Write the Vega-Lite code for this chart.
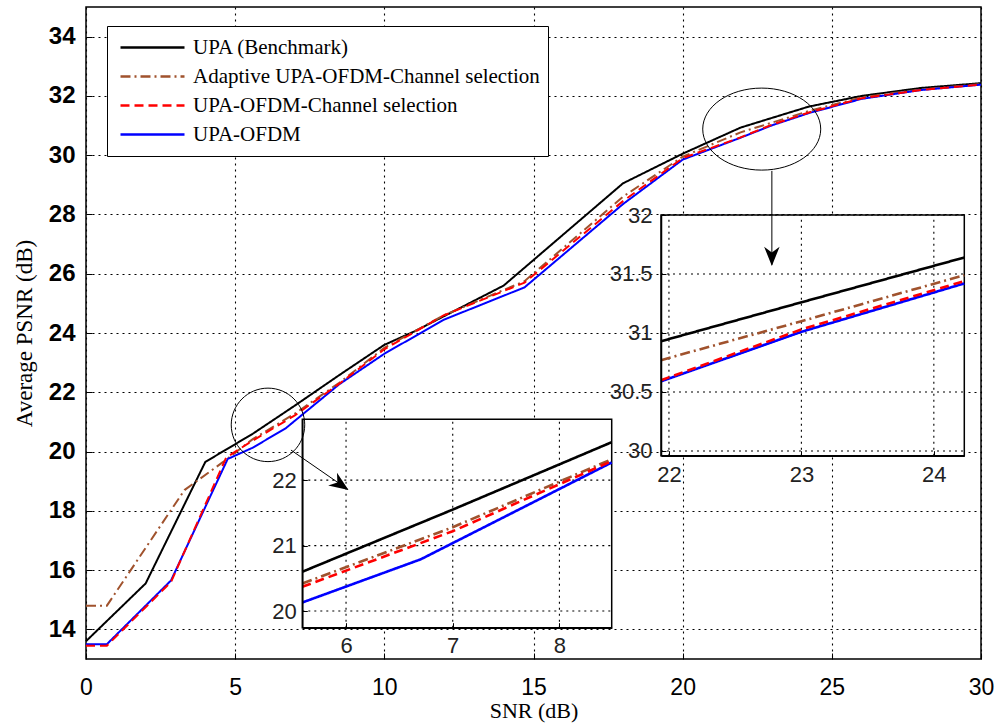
{
  "$schema": "https://vega.github.io/schema/vega-lite/v6.json",
  "width": 895,
  "height": 652,
  "autosize": {"type": "none"},
  "padding": {"left": 86, "top": 7, "right": 21, "bottom": 64},
  "background": "white",
  "config": {
    "view": {"stroke": "black", "strokeWidth": 1.5},
    "font": "Liberation Sans",
    "axis": {"gridColor": "#000", "gridOpacity": 1, "gridWidth": 1.1, "gridDash": [2, 4]}
  },
  "datasets": {
    "curves": [
      {"snr": 0, "psnr": 13.6, "series": "UPA (Benchmark)"},
      {"snr": 2, "psnr": 15.55, "series": "UPA (Benchmark)"},
      {"snr": 4, "psnr": 19.65, "series": "UPA (Benchmark)"},
      {"snr": 5.59, "psnr": 20.6, "series": "UPA (Benchmark)"},
      {"snr": 7, "psnr": 21.55, "series": "UPA (Benchmark)"},
      {"snr": 8.49, "psnr": 22.58, "series": "UPA (Benchmark)"},
      {"snr": 10, "psnr": 23.6, "series": "UPA (Benchmark)"},
      {"snr": 11, "psnr": 24.05, "series": "UPA (Benchmark)"},
      {"snr": 14, "psnr": 25.6, "series": "UPA (Benchmark)"},
      {"snr": 18, "psnr": 29.05, "series": "UPA (Benchmark)"},
      {"snr": 20, "psnr": 30.05, "series": "UPA (Benchmark)"},
      {"snr": 21.94, "psnr": 30.93, "series": "UPA (Benchmark)"},
      {"snr": 23, "psnr": 31.26, "series": "UPA (Benchmark)"},
      {"snr": 24.23, "psnr": 31.64, "series": "UPA (Benchmark)"},
      {"snr": 26, "psnr": 32.0, "series": "UPA (Benchmark)"},
      {"snr": 28, "psnr": 32.27, "series": "UPA (Benchmark)"},
      {"snr": 30, "psnr": 32.43, "series": "UPA (Benchmark)"},

      {"snr": 0, "psnr": 14.8, "series": "Adaptive UPA-OFDM-Channel selection"},
      {"snr": 0.7, "psnr": 14.8, "series": "Adaptive UPA-OFDM-Channel selection"},
      {"snr": 3.3, "psnr": 18.7, "series": "Adaptive UPA-OFDM-Channel selection"},
      {"snr": 4.6, "psnr": 19.65, "series": "Adaptive UPA-OFDM-Channel selection"},
      {"snr": 5.59, "psnr": 20.42, "series": "Adaptive UPA-OFDM-Channel selection"},
      {"snr": 7, "psnr": 21.28, "series": "Adaptive UPA-OFDM-Channel selection"},
      {"snr": 8.49, "psnr": 22.32, "series": "Adaptive UPA-OFDM-Channel selection"},
      {"snr": 10, "psnr": 23.5, "series": "Adaptive UPA-OFDM-Channel selection"},
      {"snr": 12, "psnr": 24.6, "series": "Adaptive UPA-OFDM-Channel selection"},
      {"snr": 14.7, "psnr": 25.75, "series": "Adaptive UPA-OFDM-Channel selection"},
      {"snr": 18, "psnr": 28.6, "series": "Adaptive UPA-OFDM-Channel selection"},
      {"snr": 20, "psnr": 29.95, "series": "Adaptive UPA-OFDM-Channel selection"},
      {"snr": 21.94, "psnr": 30.77, "series": "Adaptive UPA-OFDM-Channel selection"},
      {"snr": 23, "psnr": 31.1, "series": "Adaptive UPA-OFDM-Channel selection"},
      {"snr": 24.23, "psnr": 31.49, "series": "Adaptive UPA-OFDM-Channel selection"},
      {"snr": 26, "psnr": 31.95, "series": "Adaptive UPA-OFDM-Channel selection"},
      {"snr": 28, "psnr": 32.22, "series": "Adaptive UPA-OFDM-Channel selection"},
      {"snr": 30, "psnr": 32.4, "series": "Adaptive UPA-OFDM-Channel selection"},

      {"snr": 0, "psnr": 13.5, "series": "UPA-OFDM"},
      {"snr": 0.7, "psnr": 13.5, "series": "UPA-OFDM"},
      {"snr": 2.85, "psnr": 15.65, "series": "UPA-OFDM"},
      {"snr": 4.75, "psnr": 19.75, "series": "UPA-OFDM"},
      {"snr": 5.59, "psnr": 20.13, "series": "UPA-OFDM"},
      {"snr": 6.7, "psnr": 20.79, "series": "UPA-OFDM"},
      {"snr": 8.49, "psnr": 22.27, "series": "UPA-OFDM"},
      {"snr": 10, "psnr": 23.3, "series": "UPA-OFDM"},
      {"snr": 12, "psnr": 24.45, "series": "UPA-OFDM"},
      {"snr": 14.7, "psnr": 25.54, "series": "UPA-OFDM"},
      {"snr": 18, "psnr": 28.35, "series": "UPA-OFDM"},
      {"snr": 20, "psnr": 29.85, "series": "UPA-OFDM"},
      {"snr": 21.94, "psnr": 30.59, "series": "UPA-OFDM"},
      {"snr": 23, "psnr": 31.01, "series": "UPA-OFDM"},
      {"snr": 24.23, "psnr": 31.42, "series": "UPA-OFDM"},
      {"snr": 26, "psnr": 31.9, "series": "UPA-OFDM"},
      {"snr": 28, "psnr": 32.2, "series": "UPA-OFDM"},
      {"snr": 30, "psnr": 32.38, "series": "UPA-OFDM"},

      {"snr": 0, "psnr": 13.45, "series": "UPA-OFDM-Channel selection"},
      {"snr": 0.7, "psnr": 13.45, "series": "UPA-OFDM-Channel selection"},
      {"snr": 2.85, "psnr": 15.6, "series": "UPA-OFDM-Channel selection"},
      {"snr": 4.7, "psnr": 19.8, "series": "UPA-OFDM-Channel selection"},
      {"snr": 5.59, "psnr": 20.37, "series": "UPA-OFDM-Channel selection"},
      {"snr": 7, "psnr": 21.22, "series": "UPA-OFDM-Channel selection"},
      {"snr": 8.49, "psnr": 22.29, "series": "UPA-OFDM-Channel selection"},
      {"snr": 10, "psnr": 23.45, "series": "UPA-OFDM-Channel selection"},
      {"snr": 12, "psnr": 24.6, "series": "UPA-OFDM-Channel selection"},
      {"snr": 14.7, "psnr": 25.7, "series": "UPA-OFDM-Channel selection"},
      {"snr": 18, "psnr": 28.45, "series": "UPA-OFDM-Channel selection"},
      {"snr": 20, "psnr": 29.9, "series": "UPA-OFDM-Channel selection"},
      {"snr": 21.94, "psnr": 30.6, "series": "UPA-OFDM-Channel selection"},
      {"snr": 23, "psnr": 31.03, "series": "UPA-OFDM-Channel selection"},
      {"snr": 24.23, "psnr": 31.44, "series": "UPA-OFDM-Channel selection"},
      {"snr": 26, "psnr": 31.92, "series": "UPA-OFDM-Channel selection"},
      {"snr": 28, "psnr": 32.2, "series": "UPA-OFDM-Channel selection"},
      {"snr": 30, "psnr": 32.38, "series": "UPA-OFDM-Channel selection"}
    ]
  },
  "layer": [
    {
      "data": {"name": "curves"},
      "mark": {"type": "line", "strokeWidth": 2},
      "encoding": {
        "x": {
          "field": "snr", "type": "quantitative",
          "scale": {"domain": [0, 30], "nice": false, "zero": false},
          "axis": {
            "orient": "bottom", "values": [0, 5, 10, 15, 20, 25, 30],
            "grid": true,
            "domain": false, "ticks": true, "tickSize": -6, "tickColor": "#000",
            "labelFont": "Liberation Sans", "labelFontSize": 23, "labelColor": "#000",
            "labelPadding": 23, "labelFlush": false,
            "title": "SNR (dB)", "titleFont": "Liberation Serif", "titleFontSize": 22,
            "titleFontWeight": "normal", "titleColor": "#000", "titlePadding": 1
          }
        },
        "y": {
          "field": "psnr", "type": "quantitative",
          "scale": {"domain": [13, 35], "nice": false, "zero": false},
          "axis": {
            "orient": "left", "values": [14, 16, 18, 20, 22, 24, 26, 28, 30, 32, 34],
            "grid": true,
            "domain": false, "ticks": true, "tickSize": -6, "tickColor": "#000",
            "labelFont": "Liberation Sans", "labelFontSize": 24, "labelFontWeight": "bold",
            "labelColor": "#000", "labelPadding": 17,
            "title": "Average PSNR (dB)", "titleFont": "Liberation Serif", "titleFontSize": 23,
            "titleFontWeight": "normal", "titleColor": "#000", "titlePadding": 12
          }
        },
        "color": {
          "field": "series", "type": "nominal",
          "scale": {
            "domain": ["UPA (Benchmark)", "Adaptive UPA-OFDM-Channel selection", "UPA-OFDM-Channel selection", "UPA-OFDM"],
            "range": ["#000000", "#a0522d", "#ff0000", "#0000ff"]
          },
          "legend": {
            "orient": "none", "legendX": 21, "legendY": 19, "title": null,
            "symbolType": "stroke", "symbolSize": 4096, "symbolStrokeWidth": 2.5,
            "symbolOffset": 4, "clipHeight": 27,
            "labelFont": "Liberation Serif", "labelFontSize": 21, "labelColor": "#000",
            "labelOffset": 7, "labelLimit": 600, "padding": 8, "rowPadding": 2,
            "strokeColor": "#000", "fillColor": "#fff"
          }
        },
        "strokeDash": {
          "field": "series", "type": "nominal",
          "scale": {
            "domain": ["UPA (Benchmark)", "Adaptive UPA-OFDM-Channel selection", "UPA-OFDM-Channel selection", "UPA-OFDM"],
            "range": [[1, 0], [10, 4, 2, 4], [9, 5], [1, 0]]
          },
          "legend": {
            "orient": "none", "legendX": 21, "legendY": 19, "title": null,
            "symbolType": "stroke", "symbolSize": 4096, "symbolStrokeWidth": 2.5,
            "symbolOffset": 4, "clipHeight": 27,
            "labelFont": "Liberation Serif", "labelFontSize": 21, "labelColor": "#000",
            "labelOffset": 7, "labelLimit": 600, "padding": 8, "rowPadding": 2,
            "strokeColor": "#000", "fillColor": "#fff"
          }
        }
      }
    },
    {
      "layer": [
        {
          "data": {"values": [{}]},
          "mark": {"type": "rect", "fill": "#fff", "stroke": "#000", "strokeWidth": 1.5},
          "encoding": {
            "x": {"datum": 5.59, "type": "quantitative",
              "axis": {"orient": "bottom", "offset": -31.3, "values": [6, 7, 8], "zindex": 1,
                "format": "~g", "grid": false,
                "domain": true, "domainColor": "#000", "domainWidth": 1.5,
                "ticks": true, "tickSize": -5, "tickColor": "#000",
                "labelFont": "Liberation Sans", "labelFontSize": 22, "labelColor": "#222",
                "labelPadding": 13, "labelFlush": false, "title": null}},
            "x2": {"datum": 8.49},
            "y": {"datum": 19.745, "type": "quantitative",
              "axis": {"orient": "left", "offset": -216.3, "values": [20, 21, 22], "zindex": 1,
                "format": "~g", "grid": false,
                "domain": true, "domainColor": "#000", "domainWidth": 1.5,
                "ticks": true, "tickSize": -5, "tickColor": "#000",
                "labelFont": "Liberation Sans", "labelFontSize": 22, "labelColor": "#222",
                "labelPadding": 11, "labelFlush": false, "title": null}},
            "y2": {"datum": 22.93}
          }
        },
        {
          "data": {"values": [{"t": 6}, {"t": 7}, {"t": 8}]},
          "mark": {"type": "rule", "color": "#000", "strokeWidth": 1.1, "strokeDash": [2, 4]},
          "encoding": {
            "x": {"field": "t", "type": "quantitative"},
            "y": {"datum": 19.745, "type": "quantitative"},
            "y2": {"datum": 22.93}
          }
        },
        {
          "data": {"values": [{"t": 20}, {"t": 21}, {"t": 22}]},
          "mark": {"type": "rule", "color": "#000", "strokeWidth": 1.1, "strokeDash": [2, 4]},
          "encoding": {
            "y": {"field": "t", "type": "quantitative"},
            "x": {"datum": 5.59, "type": "quantitative"},
            "x2": {"datum": 8.49}
          }
        },
        {
          "data": {"name": "curves"},
          "transform": [{"filter": {"field": "snr", "range": [5.59, 8.49]}}],
          "mark": {"type": "line", "strokeWidth": 2.6},
          "encoding": {
            "x": {"field": "snr", "type": "quantitative",
              "scale": {"domain": [5.59, 8.49], "range": [216.3, 525.7], "nice": false, "zero": false},
              "axis": {"orient": "bottom", "offset": -31.3, "values": [6, 7, 8], "zindex": 1,
                "format": "~g", "grid": false,
                "domain": true, "domainColor": "#000", "domainWidth": 1.5,
                "ticks": true, "tickSize": -5, "tickColor": "#000",
                "labelFont": "Liberation Sans", "labelFontSize": 22, "labelColor": "#222",
                "labelPadding": 13, "labelFlush": false, "title": null}},
            "y": {"field": "psnr", "type": "quantitative",
              "scale": {"domain": [19.745, 22.93], "range": [620.7, 412.3], "nice": false, "zero": false},
              "axis": {"orient": "left", "offset": -216.3, "values": [20, 21, 22], "zindex": 1,
                "format": "~g", "grid": false,
                "domain": true, "domainColor": "#000", "domainWidth": 1.5,
                "ticks": true, "tickSize": -5, "tickColor": "#000",
                "labelFont": "Liberation Sans", "labelFontSize": 22, "labelColor": "#222",
                "labelPadding": 11, "labelFlush": false, "title": null}},
            "color": {"field": "series", "type": "nominal"},
            "strokeDash": {"field": "series", "type": "nominal"}
          }
        }
      ]
    },
    {
      "layer": [
        {
          "data": {"values": [{}]},
          "mark": {"type": "rect", "fill": "#fff", "stroke": "#000", "strokeWidth": 1.5},
          "encoding": {
            "x": {"datum": 21.94, "type": "quantitative",
              "axis": {"orient": "bottom", "offset": -203.3, "values": [22, 23, 24], "zindex": 1,
                "format": "~g", "grid": false,
                "domain": true, "domainColor": "#000", "domainWidth": 1.5,
                "ticks": true, "tickSize": -5, "tickColor": "#000",
                "labelFont": "Liberation Sans", "labelFontSize": 22, "labelColor": "#222",
                "labelPadding": 14, "labelFlush": false, "title": null}},
            "x2": {"datum": 24.23},
            "y": {"datum": 29.96, "type": "quantitative",
              "axis": {"orient": "left", "offset": -575, "values": [30, 30.5, 31, 31.5, 32], "zindex": 1,
                "format": "~g", "grid": false,
                "domain": true, "domainColor": "#000", "domainWidth": 1.5,
                "ticks": true, "tickSize": -5, "tickColor": "#000",
                "labelFont": "Liberation Sans", "labelFontSize": 22, "labelColor": "#222",
                "labelPadding": 14, "labelFlush": false, "title": null}},
            "y2": {"datum": 32.0}
          }
        },
        {
          "data": {"values": [{"t": 22}, {"t": 23}, {"t": 24}]},
          "mark": {"type": "rule", "color": "#000", "strokeWidth": 1.1, "strokeDash": [2, 4]},
          "encoding": {
            "x": {"field": "t", "type": "quantitative"},
            "y": {"datum": 29.96, "type": "quantitative"},
            "y2": {"datum": 32.0}
          }
        },
        {
          "data": {"values": [{"t": 30}, {"t": 30.5}, {"t": 31}, {"t": 31.5}, {"t": 32}]},
          "mark": {"type": "rule", "color": "#000", "strokeWidth": 1.1, "strokeDash": [2, 4]},
          "encoding": {
            "y": {"field": "t", "type": "quantitative"},
            "x": {"datum": 21.94, "type": "quantitative"},
            "x2": {"datum": 24.23}
          }
        },
        {
          "data": {"name": "curves"},
          "transform": [{"filter": {"field": "snr", "range": [21.94, 24.23]}}],
          "mark": {"type": "line", "strokeWidth": 2.6},
          "encoding": {
            "x": {"field": "snr", "type": "quantitative",
              "scale": {"domain": [21.94, 24.23], "range": [575, 878.3], "nice": false, "zero": false},
              "axis": {"orient": "bottom", "offset": -203.3, "values": [22, 23, 24], "zindex": 1,
                "format": "~g", "grid": false,
                "domain": true, "domainColor": "#000", "domainWidth": 1.5,
                "ticks": true, "tickSize": -5, "tickColor": "#000",
                "labelFont": "Liberation Sans", "labelFontSize": 22, "labelColor": "#222",
                "labelPadding": 14, "labelFlush": false, "title": null}},
            "y": {"field": "psnr", "type": "quantitative",
              "scale": {"domain": [29.96, 32.0], "range": [448.7, 208], "nice": false, "zero": false},
              "axis": {"orient": "left", "offset": -575, "values": [30, 30.5, 31, 31.5, 32], "zindex": 1,
                "format": "~g", "grid": false,
                "domain": true, "domainColor": "#000", "domainWidth": 1.5,
                "ticks": true, "tickSize": -5, "tickColor": "#000",
                "labelFont": "Liberation Sans", "labelFontSize": 22, "labelColor": "#222",
                "labelPadding": 14, "labelFlush": false, "title": null}},
            "color": {"field": "series", "type": "nominal"},
            "strokeDash": {"field": "series", "type": "nominal"}
          }
        }
      ]
    },
    {
      "data": {"values": [{}]},
      "layer": [
        {
          "mark": {"type": "point", "shape": "M -1 0 A 1 1 0 1 1 1 0 A 1 1 0 1 1 -1 0 Z", "size": 5400, "filled": false, "color": "#000", "strokeWidth": 1, "opacity": 1},
          "encoding": {
            "x": {"datum": 6.1, "type": "quantitative", "scale": {"domain": [0, 30], "nice": false, "zero": false}, "axis": null},
            "y": {"datum": 20.9, "type": "quantitative", "scale": {"domain": [13, 35], "nice": false, "zero": false}, "axis": null}
          }
        },
        {
          "mark": {"type": "point", "shape": "M -1 0 A 1 0.695 0 1 1 1 0 A 1 0.695 0 1 1 -1 0 Z", "size": 13924, "filled": false, "color": "#000", "strokeWidth": 1, "opacity": 1},
          "encoding": {
            "x": {"datum": 22.65, "type": "quantitative", "axis": null},
            "y": {"datum": 30.88, "type": "quantitative", "axis": null}
          }
        },
        {
          "mark": {"type": "rule", "color": "#000", "strokeWidth": 1},
          "encoding": {
            "x": {"datum": 6.87, "type": "quantitative", "axis": null},
            "y": {"datum": 20.05, "type": "quantitative", "axis": null},
            "x2": {"datum": 8.78},
            "y2": {"datum": 18.72}
          }
        },
        {
          "mark": {"type": "rule", "color": "#000", "strokeWidth": 1},
          "encoding": {
            "x": {"datum": 22.99, "type": "quantitative", "axis": null},
            "y": {"datum": 29.47, "type": "quantitative", "axis": null},
            "x2": {"datum": 22.99},
            "y2": {"datum": 26.3}
          }
        },
        {
          "mark": {"type": "point", "shape": "M 0 0 L -1 -0.4 L -0.7 0 L -1 0.4 Z", "size": 1500, "filled": true, "color": "#000", "opacity": 1, "angle": 34.6},
          "encoding": {
            "x": {"datum": 8.8, "type": "quantitative", "axis": null},
            "y": {"datum": 18.7, "type": "quantitative", "axis": null}
          }
        },
        {
          "mark": {"type": "point", "shape": "M 0 0 L -1 -0.4 L -0.7 0 L -1 0.4 Z", "size": 1500, "filled": true, "color": "#000", "opacity": 1, "angle": 90},
          "encoding": {
            "x": {"datum": 22.99, "type": "quantitative", "axis": null},
            "y": {"datum": 26.26, "type": "quantitative", "axis": null}
          }
        }
      ]
    }
  ],
  "resolve": {
    "scale": {"x": "independent", "y": "independent"},
    "axis": {"x": "independent", "y": "independent"}
  }
}
